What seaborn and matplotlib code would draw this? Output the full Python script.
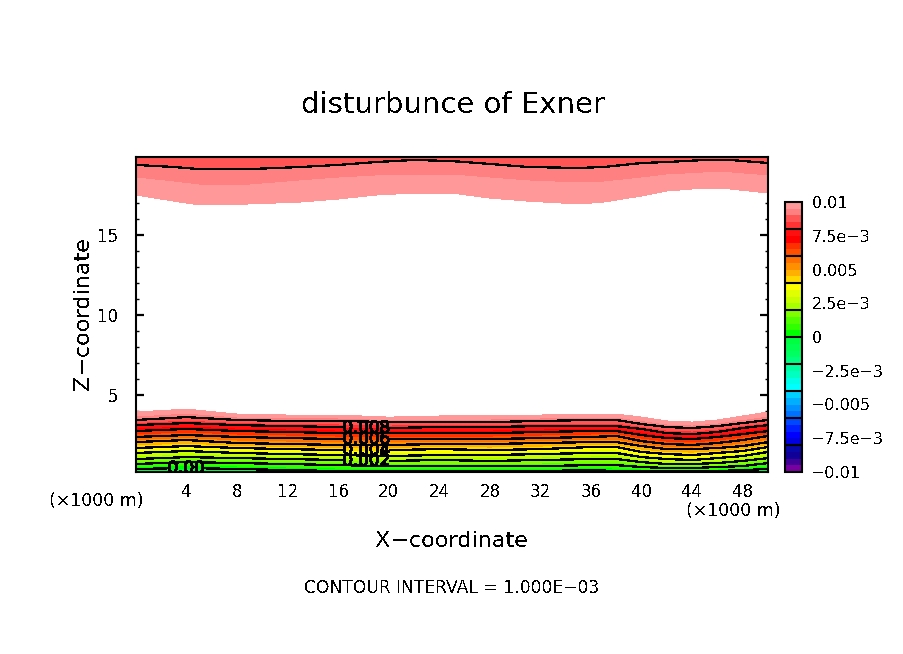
import numpy as np
import matplotlib
matplotlib.use('Agg')
import matplotlib.pyplot as plt
import matplotlib.patheffects as pe
from matplotlib.colors import BoundaryNorm, ListedColormap
import seaborn as sns

# alturas (km) das isolinhas da parte de baixo
lower_x = [0, 4, 8, 12, 16, 20, 24, 28, 32, 36, 38, 40, 42, 44, 46, 48, 50]
lower_levels = [-0.0005, 0.0, 0.001, 0.002, 0.003, 0.004, 0.005, 0.006, 0.007, 0.008, 0.009, 0.01]
z_below = [0.0] * 17
z_000 = [.38, .44, .38, .31, .25, .25, .25, .25, .25, .31, .25, .25, .25, .25, .25, .31, .38]
z_001 = [.69, .81, .75, .69, .62, .56, .56, .56, .56, .62, .62, .5, .44, .44, .5, .56, .75]
z_002 = [1.0, 1.12, 1.06, 1.0, .94, .88, .94, .88, .94, 1.0, 1.0, .81, .69, .69, .75, .88, 1.06]
z_003 = [1.38, 1.5, 1.38, 1.31, 1.25, 1.19, 1.25, 1.25, 1.31, 1.38, 1.38, 1.12, 1.0, .94, 1.06, 1.19, 1.44]
z_004 = [1.69, 1.81, 1.69, 1.62, 1.56, 1.56, 1.62, 1.56, 1.62, 1.75, 1.75, 1.44, 1.31, 1.25, 1.38, 1.5, 1.75]
z_005 = [2.06, 2.19, 2.0, 1.94, 1.88, 1.88, 1.94, 1.94, 2.0, 2.06, 2.06, 1.81, 1.62, 1.62, 1.69, 1.81, 2.06]
z_006 = [2.38, 2.5, 2.38, 2.31, 2.25, 2.25, 2.25, 2.25, 2.31, 2.38, 2.44, 2.12, 1.94, 1.88, 2.0, 2.19, 2.44]
z_007 = [2.75, 2.88, 2.75, 2.69, 2.62, 2.62, 2.62, 2.62, 2.69, 2.75, 2.75, 2.5, 2.31, 2.25, 2.38, 2.56, 2.75]
z_008 = [3.12, 3.25, 3.12, 3.06, 3.0, 2.94, 3.0, 3.0, 3.06, 3.06, 3.06, 2.88, 2.62, 2.56, 2.69, 2.94, 3.12]
z_009 = [3.44, 3.62, 3.44, 3.38, 3.38, 3.31, 3.31, 3.31, 3.38, 3.44, 3.44, 3.19, 3.0, 2.94, 3.06, 3.25, 3.44]
z_010 = [3.94, 4.12, 3.81, 3.75, 3.75, 3.62, 3.69, 3.69, 3.75, 3.81, 3.81, 3.62, 3.38, 3.31, 3.44, 3.69, 3.94]

# parte de cima
upper_x = [0, 3, 5, 9, 13, 16, 19, 22, 25, 28, 31, 35, 37, 40, 42, 45, 47, 50]
upper_levels = [0.0085, 0.009, 0.0095, 0.01]
u_0100 = [17.5, 17.12, 16.88, 16.94, 17.06, 17.25, 17.5, 17.62, 17.62, 17.31, 17.12, 16.94, 17.06, 17.44, 17.75, 17.94, 17.88, 17.62]
u_0095 = [18.56, 18.31, 18.12, 18.12, 18.38, 18.56, 18.69, 18.75, 18.75, 18.56, 18.38, 18.25, 18.31, 18.56, 18.75, 18.88, 18.88, 18.69]
u_0090 = [19.38, 19.25, 19.12, 19.12, 19.25, 19.38, 19.56, 19.69, 19.62, 19.44, 19.25, 19.19, 19.25, 19.5, 19.56, 19.69, 19.69, 19.5]
u_0085 = [21.0] * 18

# cores da barra, de -0.01 ate 0.01 (40 faixas, blocos de 4)
band_colors = [
    '#7800A0', '#400098', '#100098', '#0808A8',
    '#0000E0', '#0000FF', '#0020FF', '#0048FF',
    '#0070FF', '#0090FF', '#00B0FF', '#00D0FF',
    '#00FFFF', '#00FFE8', '#00FFC0', '#00FFA0',
    '#00FF80', '#00FF60', '#00FF50', '#00FF40',
    '#00FF00', '#30FF00', '#50FF00', '#80FF00',
    '#A8FF00', '#C8FF00', '#E0FF00', '#FFFF00',
    '#FFD800', '#FFB000', '#FF9000', '#FF7000',
    '#FF5000', '#FF3000', '#FF0000', '#FF1010',
    '#FF3333', '#FF5555', '#FF8080', '#FF9999',
]
cbar_ticks = [-0.01, -0.0075, -0.005, -0.0025, 0, 0.0025, 0.005, 0.0075, 0.01]
cbar_labels = ['\u22120.01', '\u22127.5e\u22123', '\u22120.005', '\u22122.5e\u22123', '0',
               '2.5e\u22123', '0.005', '7.5e\u22123', '0.01']
cbar_edges = [-0.008, -0.006, -0.004, -0.002, 0, 0.002, 0.004, 0.006, 0.008]
x_ticks = [4, 8, 12, 16, 20, 24, 28, 32, 36, 40, 44, 48]
z_ticks = [5, 10, 15]
line_levels = [0.0, 0.001, 0.002, 0.003, 0.004, 0.005, 0.006, 0.007, 0.008, 0.009]
label_names = ['0.00', '', '0.002', '', '0.004', '', '0.006', '', '0.008', '']

sns.set_theme(style='ticks', font='DejaVu Sans', rc={
    'axes.edgecolor': 'black', 'text.color': 'black', 'axes.labelcolor': 'black',
    'xtick.color': 'black', 'ytick.color': 'black', 'axes.grid': False,
    'text.antialiased': False,
})

W, H = 904, 654
fig = plt.figure(figsize=(W / 100, H / 100), dpi=100)
ax = fig.add_axes([136 / W, 1 - 472 / H, (768 - 136) / W, (472 - 157) / H])
cax = fig.add_axes([785 / W, 1 - 472 / H, 17 / W, 270 / H])

levels = np.arange(-20, 21) * 0.0005
cmap = ListedColormap(sns.color_palette(band_colors))
norm = BoundaryNorm(levels, cmap.N)

X_low = np.tile(lower_x, (len(lower_levels), 1))
Z_low = np.array([z_below, z_000, z_001, z_002, z_003, z_004, z_005, z_006, z_007, z_008, z_009, z_010])
V_low = np.tile(np.array(lower_levels)[:, None], (1, len(lower_x)))
cf = ax.contourf(X_low, Z_low, V_low, levels=levels, cmap=cmap, norm=norm)

X_up = np.tile(upper_x, (len(upper_levels), 1))
Z_up = np.array([u_0085, u_0090, u_0095, u_0100])
V_up = np.tile(np.array(upper_levels)[:, None], (1, len(upper_x)))
ax.contourf(X_up, Z_up, V_up, levels=levels, cmap=cmap, norm=norm)

cs = ax.contour(X_low, Z_low, V_low, levels=line_levels, colors='black', linewidths=0.9, antialiased=False)
ax.contour(X_up, Z_up, V_up, levels=[0.009], colors='black', linewidths=0.9, antialiased=False)

label_fmt = dict(zip(cs.levels, label_names))
labels = ax.clabel(cs, fmt=label_fmt, fontsize=12, inline=True, inline_spacing=0,
                   manual=[(18.2, 3.0), (18.2, 2.25), (18.2, 1.56), (18.2, 0.88), (3.95, 0.38)])
for t in labels:
    t.set_rotation(0)
    t.set_color('black')
    t.set_path_effects([pe.withStroke(linewidth=0.25, foreground='black')])

ax.set_xlim(0, 50)
ax.set_ylim(0.19, 19.875)
ax.set_xticks(x_ticks)
ax.set_xticks(range(2, 50, 2), minor=True)
ax.set_yticks(z_ticks)
ax.set_yticks(range(1, 20), minor=True)
ax.tick_params(which='major', direction='in', length=6, width=1.6, top=True, right=True, labelsize=12)
ax.tick_params(which='minor', direction='in', length=2.5, width=1, top=True, right=True)
ax.tick_params(axis='x', which='major', pad=8)
ax.tick_params(axis='y', which='major', pad=13)
sns.despine(ax=ax, top=False, right=False)
for s in ax.spines.values():
    s.set_linewidth(1.5)

cbar = fig.colorbar(cf, cax=cax, ticks=cbar_ticks, spacing='proportional', drawedges=False)
cbar.minorticks_off()
cbar.ax.set_yticklabels(cbar_labels)
cbar.ax.tick_params(length=0, labelsize=11.5, pad=7)
cbar.outline.set_linewidth(1.5)
cbar.outline.set_edgecolor('black')
for v in cbar_edges:
    cax.axhline(v, color='black', lw=1.5)

def put(px, py, s, **kw):
    fig.text(px / W, 1 - py / H, s, ha='center', va='center', **kw)

put(453, 105, 'disturbunce of Exner', fontsize=21)
put(452, 541, 'X\u2212coordinate', fontsize=16)
put(83, 314, 'Z\u2212coordinate', fontsize=16, rotation=90)
put(96, 501, '(\u00d71000 m)', fontsize=12.5)
put(733, 511, '(\u00d71000 m)', fontsize=12.5)
put(452, 588, 'CONTOUR INTERVAL = 1.000E\u221203', fontsize=12.3)

fig.savefig('out.png', dpi=100)
